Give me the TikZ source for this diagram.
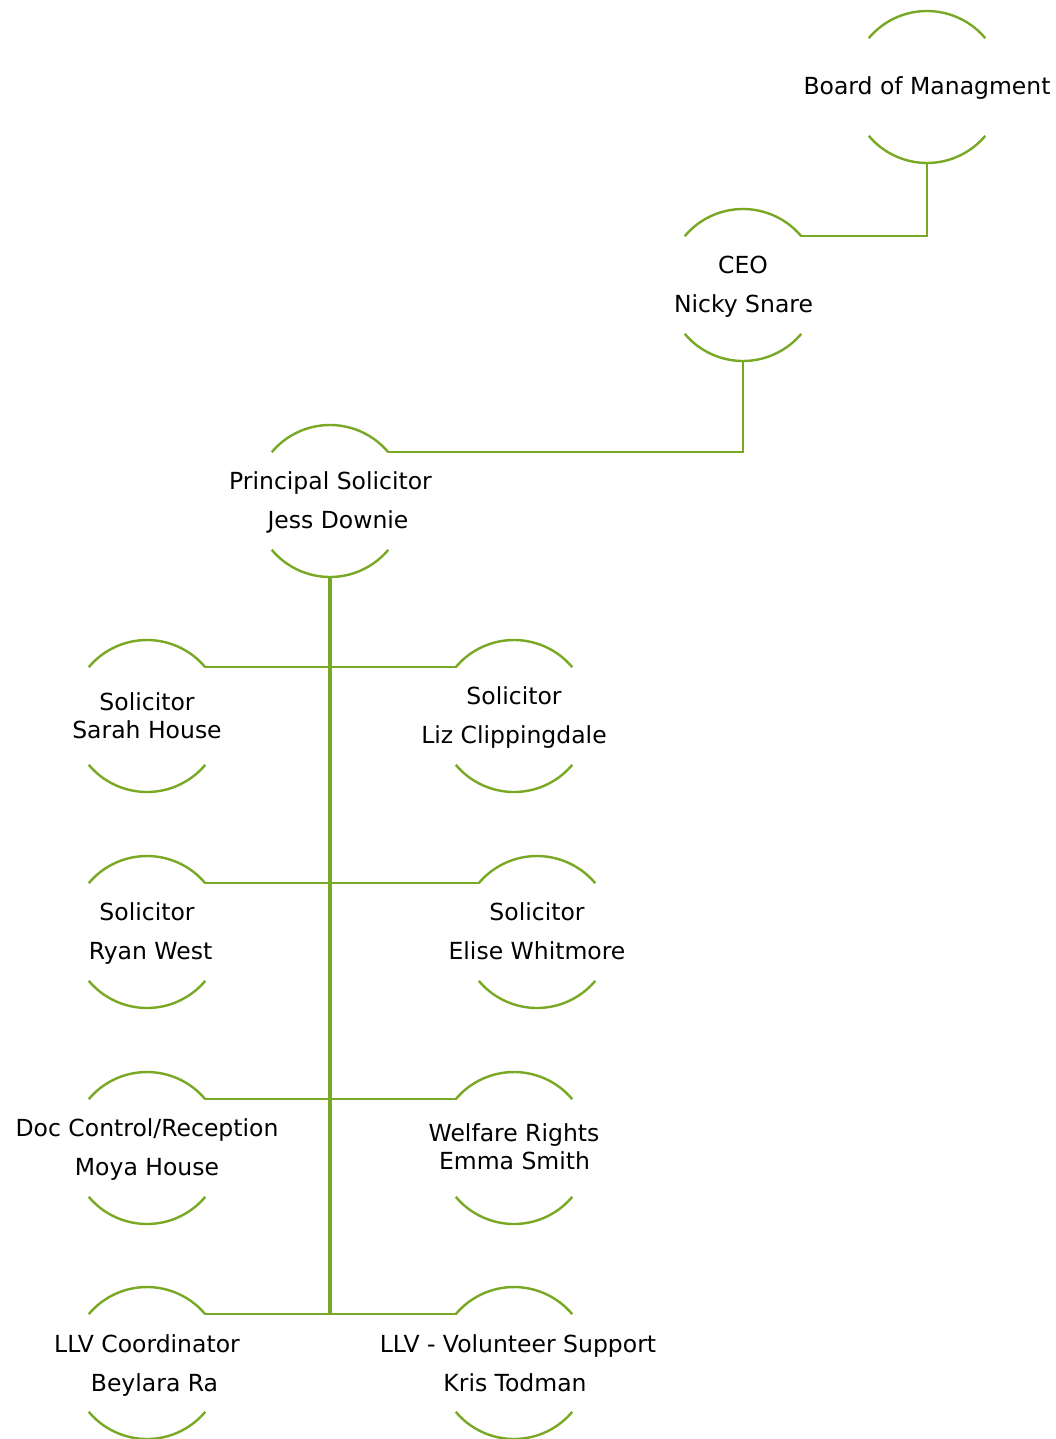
\documentclass[tikz,border=0pt]{standalone}
\usepackage{fontspec}
\setmainfont{DejaVu Sans}
\definecolor{orggreen}{RGB}{120,168,36}
\newcommand\orgarcs[1]{%
  \draw[arcline] (#1.40) arc[start angle=40,end angle=140,radius=76];
  \draw[arcline] (#1.220) arc[start angle=220,end angle=320,radius=76];}
\begin{document}
\begin{tikzpicture}[x=1pt,y=1pt,
  orgc/.style={circle,minimum size=152pt,inner sep=0pt,outer sep=0pt,draw=none},
  arcline/.style={draw=orggreen,line width=2.4pt},
  conn/.style={draw=orggreen,line width=2.4pt},
  lbl/.style={anchor=base,inner sep=0pt,font=\fontsize{23.5}{28}\selectfont,text=black}]
\useasboundingbox (0,0) rectangle (1056,-1439);
% circles
\node[orgc] (board) at (927,-87) {};
\node[orgc] (ceo) at (743,-285) {};
\node[orgc] (ps) at (330,-501) {};
\node[orgc] (sarah) at (147,-716) {};
\node[orgc] (liz) at (514,-716) {};
\node[orgc] (ryan) at (147,-932) {};
\node[orgc] (elise) at (537,-932) {};
\node[orgc] (doc) at (147,-1148) {};
\node[orgc] (welfare) at (514,-1148) {};
\node[orgc] (llvc) at (147,-1363) {};
\node[orgc] (kris) at (514,-1363) {};
\foreach \n in {board,ceo,ps,sarah,liz,ryan,elise,doc,welfare,llvc,kris}{\orgarcs{\n}}
% connectors
\draw[conn] (board.south) |- (ceo.40);
\draw[conn] (ceo.south) |- (ps.40);
\draw[conn,line width=3.4pt] (ps.south) -- (ps.south |- llvc.40);
\draw[conn] (sarah.40) -- (liz.140);
\draw[conn] (ryan.40) -- (elise.140);
\draw[conn] (doc.40) -- (welfare.140);
\draw[conn] (llvc.40) -- (kris.140);
% labels
\node[lbl] (boardt) at (927,-95) {Board of Managment};
\node[lbl] (ceot1) at (743,-273) {CEO};
\node[lbl] (ceot2) at (743.5,-312) {Nicky Snare};
\node[lbl] (pst1) at (330.5,-489) {Principal Solicitor};
\node[lbl] (pst2) at (338,-528) {Jess Downie};
\node[lbl] (saraht1) at (147,-710) {Solicitor};
\node[lbl] (saraht2) at (147,-738) {Sarah House};
\node[lbl] (lizt1) at (514,-704) {Solicitor};
\node[lbl] (lizt2) at (514,-743) {Liz Clippingdale};
\node[lbl] (ryant1) at (147,-920) {Solicitor};
\node[lbl] (ryant2) at (150.5,-959) {Ryan West};
\node[lbl] (eliset1) at (537,-920) {Solicitor};
\node[lbl] (eliset2) at (537,-959) {Elise Whitmore};
\node[lbl] (doct1) at (147,-1136.5) {Doc Control/Reception};
\node[lbl] (doct2) at (147,-1175) {Moya House};
\node[lbl] (welfaret1) at (514,-1141) {Welfare Rights};
\node[lbl] (welfaret2) at (514.5,-1169) {Emma Smith};
\node[lbl] (llvct1) at (147,-1352.5) {LLV Coordinator};
\node[lbl] (llvct2) at (154.5,-1391) {Beylara Ra};
\node[lbl] (krist1) at (518,-1352.5) {LLV - Volunteer Support};
\node[lbl] (krist2) at (515,-1391) {Kris Todman};
\end{tikzpicture}
\end{document}
